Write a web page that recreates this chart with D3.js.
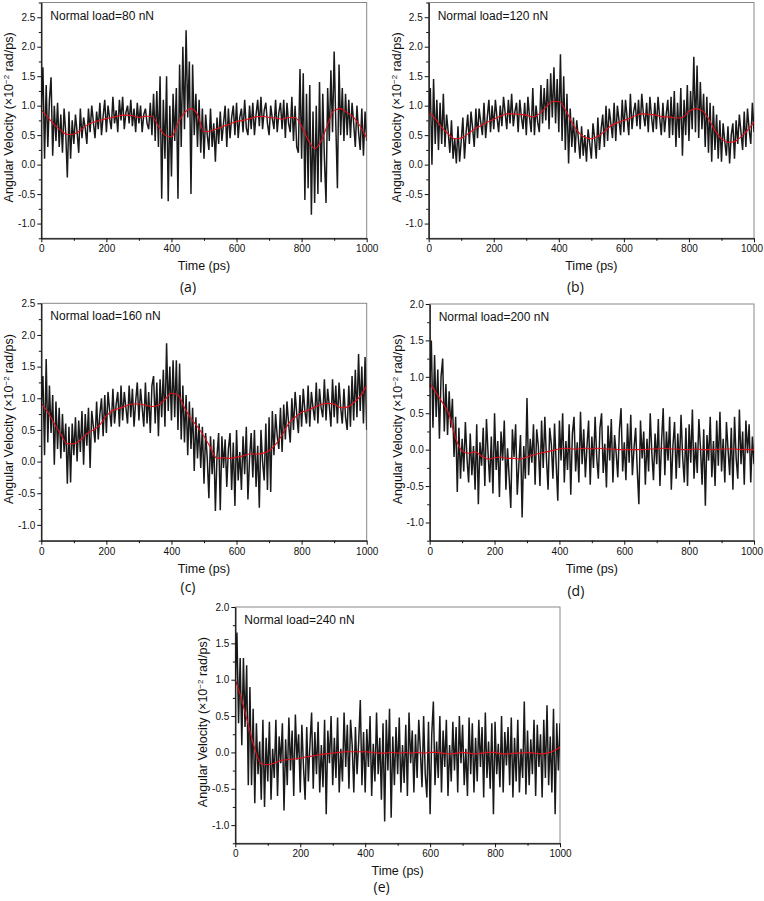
<!DOCTYPE html>
<html lang="en">
<head>
<meta charset="UTF-8">
<script src="https://d3js.org/d3.v7.min.js"></script>
<style>
  body { margin: 0; background: #fff; }
  svg text { font-family: 'Liberation Sans', Arial, sans-serif; fill: #111; }
  .tick text { font-size: 10px; font-family: 'Liberation Sans', Arial, sans-serif; }
  .frame { fill: none; stroke: #888; stroke-width: 1; }
  .raw { fill: none; stroke: #000; stroke-width: 1.5; stroke-linejoin: miter; stroke-opacity: 0.9; }
  .fit { fill: none; stroke: #e3101a; stroke-width: 1.1; }
  .title { font-size: 12px; }
  .xlabel { font-size: 12.5px; }
  .ylabel { font-size: 12.5px; }
  svg text.panel-tag { font-family: 'Open Sans', sans-serif; font-size: 14px; }
</style>
</head>
<body>
<script>
// time axis of the raw trace (ps) and of the smoothed curve
const tRaw = d3.range(0, 1001, 5);
const tFit = d3.range(0, 1001, 20);

const loads = ["80", "120", "160", "200", "240"];
const tags = ["(a)", "(b)", "(c)", "(d)", "(e)"];

// raw angular velocity, x10^-2 rad/ps, every 5 ps
const velA = [
  0.95,1.65,0.10,1.35,0.30,1.10,1.48,0.15,1.00,0.40, 1.05,0.30,0.85,0.20,0.95,0.55,-0.22,0.90,0.10,0.75,
  0.35,0.85,0.55,0.20,0.95,0.45,0.80,0.62,0.35,0.95, 0.55,1.00,0.72,0.45,0.90,0.60,1.05,0.50,0.82,1.10,
  0.55,1.00,0.78,0.60,1.15,0.70,0.92,0.55,1.10,0.75, 1.15,0.60,0.88,1.00,0.70,1.10,0.65,0.95,0.55,1.05,
  0.70,1.00,0.55,0.85,0.95,0.70,0.60,1.05,0.50,1.20, 0.40,1.25,0.30,1.50,-0.58,1.10,0.10,1.50,-0.62,1.00,
  -0.20,1.20,0.40,1.30,-0.58,1.70,0.30,2.00,0.60,2.28, 0.80,1.75,-0.50,1.70,0.50,1.20,0.30,1.10,0.20,0.95,
  0.10,0.85,0.50,0.25,0.95,0.30,0.70,0.05,0.80,0.35, 0.90,0.40,0.70,1.00,0.30,0.95,0.45,0.80,1.00,0.50,
  1.05,0.45,0.80,0.95,0.55,1.10,0.62,0.50,1.00,0.60, 1.05,0.50,0.85,1.10,0.65,1.15,0.60,0.92,1.05,0.70,
  0.50,1.00,0.78,0.60,1.10,0.55,0.88,1.05,0.60,1.10, 0.45,1.05,0.70,0.55,1.15,0.40,1.00,0.30,0.20,1.62,
  0.10,1.55,-0.60,1.20,-0.40,1.35,-0.85,0.90,-0.65,1.00, -0.50,1.40,-0.30,1.20,0.10,-0.65,1.30,0.40,1.60,0.55,
  1.92,0.70,-0.40,1.70,0.50,1.30,0.40,1.20,0.50,1.10, 0.45,1.05,0.70,0.30,1.00,0.55,0.25,0.95,0.15,0.90,
  0.40
];
const velB = [
  0.90,1.30,0.00,1.45,0.35,1.10,0.25,1.05,0.35,1.20, 0.30,0.85,0.55,0.20,0.75,0.10,0.45,0.02,0.65,0.05,
  0.40,0.80,0.10,0.55,0.85,0.35,0.90,0.62,0.30,0.95, 0.45,0.95,0.72,0.50,1.05,0.45,0.80,1.10,0.55,1.00,
  0.60,1.10,0.80,0.55,1.00,0.65,1.15,0.88,0.60,1.10, 0.70,1.20,0.65,0.90,1.05,0.55,1.10,0.80,0.60,1.05,
  0.50,1.15,0.80,0.55,1.30,0.50,1.00,0.72,0.55,1.35, 0.70,1.30,0.75,1.45,0.60,1.55,0.80,1.65,0.70,1.45,
  0.55,1.87,0.40,1.50,0.25,1.20,0.02,0.95,0.30,0.80, 0.20,0.75,0.45,0.10,0.65,0.15,0.50,0.05,0.60,0.35,
  0.10,0.70,0.45,0.10,0.80,0.25,0.60,0.85,0.30,1.00, 0.40,0.95,0.70,0.45,1.05,0.40,1.00,0.75,0.50,1.10,
  0.55,1.10,0.80,0.50,1.20,0.60,0.90,1.05,0.65,1.10, 0.60,1.20,0.85,0.65,1.05,0.55,1.15,0.80,0.55,1.05,
  0.60,1.15,0.80,0.50,1.05,0.55,0.85,1.10,0.45,1.15, 0.50,1.25,0.30,1.05,0.45,1.30,0.15,1.10,0.50,1.35,
  0.40,1.25,0.60,1.83,0.55,1.68,0.45,1.40,0.60,1.20, 0.30,1.15,0.20,1.05,0.05,1.00,0.25,0.85,0.10,0.75,
  0.05,0.70,0.40,0.15,0.65,0.02,0.50,0.70,0.10,0.75, 0.35,0.85,0.55,0.25,0.90,0.30,0.95,0.60,0.35,1.05,
  0.55
];
const velC = [
  0.90,1.35,0.10,1.62,0.30,1.20,0.45,1.05,-0.05,0.95, 0.20,0.85,0.05,0.75,0.15,0.60,-0.35,0.55,-0.33,0.60,
  0.10,0.70,0.00,0.65,0.15,0.80,-0.05,0.75,0.25,0.85, -0.10,0.80,0.55,0.30,0.95,0.35,0.75,1.00,0.40,1.05,
  0.45,1.10,0.80,0.55,1.15,0.60,0.90,1.10,0.55,1.20, 0.65,1.10,0.85,0.60,1.20,0.70,1.15,0.55,0.95,1.25,
  0.65,1.15,0.85,0.55,1.25,0.60,1.10,0.45,1.20,1.35, 0.60,1.25,0.40,1.30,0.70,1.45,0.55,1.87,0.80,1.50,
  0.65,1.60,0.70,1.60,0.50,1.55,0.35,1.20,0.30,1.05, 0.10,0.95,0.20,0.85,-0.15,0.70,0.05,0.60,-0.10,0.55,
  -0.35,0.45,0.05,-0.58,0.40,-0.20,0.35,-0.78,0.10,0.45, -0.77,0.40,-0.10,0.35,-0.40,0.20,0.45,-0.45,0.30,-0.70,
  0.50,-0.30,0.15,-0.45,0.40,-0.20,0.55,-0.60,0.05,0.45, -0.25,0.50,-0.40,0.25,-0.73,0.50,0.00,-0.30,0.60,-0.45,
  0.70,-0.48,0.80,0.10,0.75,0.40,0.20,0.85,0.15,0.90, 0.35,0.95,0.60,0.30,1.00,0.50,1.10,0.75,0.45,1.05,
  0.55,1.15,0.80,0.60,1.20,0.55,1.10,0.85,0.65,1.25, 0.60,1.15,0.85,0.70,1.30,0.65,1.15,0.88,0.55,1.30,
  0.70,1.20,0.60,1.25,0.85,0.60,1.15,0.70,0.50,1.20, 0.55,1.35,0.65,1.45,0.70,1.70,0.80,1.50,0.60,1.65,
  0.50
];
const velD = [
  0.85,1.50,0.30,1.30,0.45,1.10,0.15,1.00,1.25,0.25, 0.90,0.20,0.80,0.30,0.70,-0.10,0.45,-0.58,0.30,-0.40,
  0.15,-0.30,0.38,-0.12,-0.45,0.22,-0.35,0.05,-0.55,0.35, -0.75,0.10,-0.22,0.30,-0.50,0.42,-0.05,-0.45,0.18,-0.60,
  0.50,-0.28,0.12,-0.65,0.25,-0.15,0.40,-0.55,0.02,-0.38, -0.80,0.28,-0.10,0.35,-0.62,-0.20,0.20,-0.93,0.05,-0.40,
  0.71,-0.35,0.15,-0.18,0.35,-0.48,0.28,0.05,-0.50,0.40, -0.25,0.45,-0.12,-0.55,0.30,0.08,-0.40,0.36,-0.20,-0.70,
  0.40,-0.15,0.50,-0.45,0.12,-0.28,0.35,-0.62,0.22,0.45, -0.30,0.10,-0.45,0.52,-0.20,0.28,-0.38,0.05,0.40,-0.48,
  0.18,-0.25,0.45,-0.10,-0.40,0.30,0.50,-0.32,0.08,-0.52, 0.33,-0.15,0.42,-0.45,0.20,-0.05,-0.38,0.28,0.57,-0.30,
  0.10,-0.42,0.36,-0.18,0.48,-0.35,0.02,0.30,-0.28,-0.75, 0.40,-0.12,0.25,-0.48,0.15,-0.30,0.50,-0.05,-0.42,0.22,
  -0.20,0.42,-0.50,0.12,0.57,-0.35,0.25,-0.15,0.45,-0.55, 0.05,0.38,-0.40,0.22,-0.25,0.48,-0.10,-0.45,0.30,-0.50,
  0.35,-0.18,0.55,-0.40,0.10,-0.32,0.42,0.02,-0.48,0.28, -0.77,0.20,-0.15,0.45,-0.38,0.12,-0.50,0.40,-0.22,0.52,
  -0.30,0.15,-0.45,0.38,0.00,-0.35,0.30,-0.55,0.45,-0.12, -0.40,0.55,-0.20,0.25,-0.48,0.40,-0.05,0.35,-0.45,0.18,
  -0.20
];
const velE = [
  1.00,1.65,0.40,1.30,0.10,1.30,0.35,1.20,-0.45,0.90, -0.45,0.60,-0.70,0.40,-0.30,0.15,-0.65,0.45,-0.75,0.20,
  -0.40,0.42,-0.65,0.05,-0.35,0.45,-0.60,0.22,-0.15,0.40, -0.80,0.18,-0.45,0.48,-0.25,0.30,-0.60,0.52,-0.10,0.25,
  -0.55,0.38,-0.20,-0.65,0.35,-0.40,0.12,0.55,-0.50,0.28, -0.30,0.42,-0.55,0.10,-0.48,0.45,-0.85,0.30,-0.15,0.50,
  -0.45,0.20,-0.35,0.48,-0.55,0.05,-0.40,0.55,-0.20,0.38, -0.50,0.45,0.10,-0.55,0.35,-0.30,0.15,0.72,-0.45,0.28,
  -0.55,0.32,-0.20,0.50,-0.60,0.12,-0.40,0.55,-0.30,0.20, -0.65,0.40,-0.95,0.45,-0.25,0.60,-0.90,0.22,-0.45,0.35,
  -0.30,0.48,-0.55,0.10,-0.42,0.38,-0.60,0.55,-0.15,0.30, -0.55,0.25,-0.35,0.45,0.02,-0.48,0.50,-0.30,-0.62,0.42,
  -0.85,0.25,0.70,-0.45,0.15,-0.35,0.50,-0.55,0.30,-0.20, 0.45,-0.60,0.10,-0.40,0.42,-0.25,0.35,-0.55,0.50,-0.15,
  0.38,-0.45,0.05,-0.60,0.48,-0.30,0.40,-0.55,0.20,-0.40, 0.45,-0.20,0.35,-0.62,0.55,-0.35,0.15,-0.50,0.40,-0.85,
  0.42,-0.30,0.12,-0.48,0.50,-0.55,0.28,-0.18,0.35,-0.45, 0.48,-0.62,0.20,-0.40,0.45,-0.55,0.05,-0.35,0.70,-0.58,
  0.30,-0.45,0.18,-0.30,0.45,-0.60,0.38,-0.20,0.25,-0.62, 0.45,-0.35,0.65,-0.45,0.22,-0.55,0.60,-0.85,0.40,-0.25,
  0.40
];

// smoothed (red) curves, every 20 ps
const fitA = [0.93,0.80,0.68,0.58,0.51,0.52,0.58,0.67,0.72,0.75,0.78,0.80,0.83,0.84,0.83,0.80,0.82,0.82,0.65,0.50,
  0.47,0.70,0.88,0.95,0.85,0.56,0.57,0.61,0.65,0.69,0.73,0.75,0.78,0.81,0.82,0.80,0.79,0.77,0.80,0.80,
  0.65,0.42,0.27,0.40,0.68,0.92,0.95,0.88,0.80,0.65,0.45];
const fitB = [0.89,0.78,0.63,0.52,0.44,0.45,0.52,0.60,0.66,0.72,0.77,0.82,0.86,0.86,0.85,0.84,0.81,0.86,0.97,1.07,
  1.07,0.93,0.72,0.55,0.46,0.44,0.48,0.56,0.66,0.71,0.75,0.79,0.84,0.86,0.85,0.84,0.81,0.81,0.79,0.80,
  0.90,0.95,0.92,0.78,0.58,0.44,0.38,0.39,0.47,0.58,0.72];
const fitC = [0.92,0.78,0.60,0.43,0.28,0.28,0.34,0.44,0.50,0.58,0.72,0.81,0.84,0.88,0.91,0.91,0.89,0.87,0.89,0.98,
  1.08,1.05,0.85,0.68,0.55,0.40,0.22,0.05,0.06,0.05,0.07,0.09,0.12,0.12,0.13,0.17,0.27,0.42,0.60,0.70,
  0.78,0.81,0.86,0.90,0.92,0.91,0.85,0.86,0.93,1.03,1.20];
const fitD = [0.91,0.78,0.64,0.48,0.16,-0.02,-0.05,-0.03,-0.09,-0.13,-0.11,-0.10,-0.12,-0.12,-0.13,-0.10,-0.07,-0.05,-0.03,-0.01,
  0.01,0.02,0.01,0.01,0.02,0.01,0.02,0.01,0.01,0.00,0.00,0.00,0.00,0.00,0.01,0.01,0.02,0.01,0.01,0.00,
  0.00,0.01,0.00,0.00,0.00,0.01,0.01,0.01,0.00,0.00,0.00];
const fitE = [1.00,0.72,0.38,0.05,-0.16,-0.17,-0.15,-0.11,-0.10,-0.09,-0.08,-0.06,-0.05,-0.03,-0.02,-0.01,0.00,0.01,0.01,0.01,
  0.01,0.00,-0.01,-0.01,0.00,-0.01,0.00,-0.01,0.00,-0.01,0.00,0.00,-0.01,-0.02,-0.01,0.00,-0.01,-0.02,-0.01,0.00,
  0.00,-0.02,-0.02,-0.01,-0.01,0.00,-0.01,-0.02,-0.01,0.02,0.07];

const yDomains = [[-1.25, 2.75], [-1.25, 2.75], [-1.25, 2.5], [-1.25, 2.0], [-1.25, 2.0]];
const yTicks = [
  [-1, -0.5, 0, 0.5, 1, 1.5, 2, 2.5],
  [-1, -0.5, 0, 0.5, 1, 1.5, 2, 2.5],
  [-1, -0.5, 0, 0.5, 1, 1.5, 2, 2.5],
  [-1, -0.5, 0, 0.5, 1, 1.5, 2],
  [-1, -0.5, 0, 0.5, 1, 1.5, 2]
];
const xTicks = [0, 200, 400, 600, 800, 1000];

const raws = [velA, velB, velC, velD, velE];
const fits = [fitA, fitB, fitC, fitD, fitE];

// plot rectangles: left, top, width, height, and offset of the (x) tag below the axis
const boxes = [
  {x: 41.3, y: 2.5, w: 325.4, h: 235.8, tag: 54},
  {x: 428.7, y: 2.5, w: 325.3, h: 235.8, tag: 54},
  {x: 41.3, y: 303.3, w: 325.4, h: 237.4, tag: 51},
  {x: 429.7, y: 304, w: 324.3, h: 236.7, tag: 55},
  {x: 235.3, y: 607, w: 324.7, h: 236.3, tag: 49}
];

const svg = d3.select("body").append("svg")
  .attr("width", 764)
  .attr("height", 901);

boxes.forEach((b, i) => {
  const g = svg.append("g").attr("transform", `translate(${b.x},${b.y})`);
  const x = d3.scaleLinear().domain([0, 1000]).range([0, b.w]);
  const y = d3.scaleLinear().domain(yDomains[i]).range([b.h, 0]);

  g.append("defs").append("clipPath").attr("id", "clip" + i)
    .append("rect").attr("width", b.w).attr("height", b.h);

  // top/right frame (grey)
  g.append("rect").attr("class", "frame").attr("width", b.w).attr("height", b.h);

  const plot = g.append("g").attr("clip-path", `url(#clip${i})`);
  const rawLine = d3.line().x((d, k) => x(tRaw[k])).y(d => y(d));
  plot.append("path").attr("class", "raw").attr("d", rawLine(raws[i]));
  const fitLine = d3.line().x((d, k) => x(tFit[k])).y(d => y(d)).curve(d3.curveMonotoneX);
  plot.append("path").attr("class", "fit").attr("d", fitLine(fits[i]));

  // minor ticks
  const xMinor = d3.range(100, 1000, 200);
  g.append("g").attr("transform", `translate(0,${b.h})`)
    .call(d3.axisBottom(x).tickValues(xMinor).tickSize(2.5).tickFormat(""))
    .call(s => s.select(".domain").remove());
  const yMinor = d3.range(yDomains[i][0], yDomains[i][1] + 0.001, 0.5);
  g.append("g")
    .call(d3.axisLeft(y).tickValues(yMinor).tickSize(2.5).tickFormat(""))
    .call(s => s.select(".domain").remove());

  // major axes
  const xAx = g.append("g").attr("transform", `translate(0,${b.h})`)
    .call(d3.axisBottom(x).tickValues(xTicks).tickSize(4).tickSizeOuter(0).tickPadding(3).tickFormat(d3.format("d")))
    .call(s => s.select(".domain").attr("stroke", "#111").attr("stroke-width", 1.3));
  // keep the last label inside the page on the right-hand panels
  if (b.x + b.w > 740) {
    xAx.selectAll(".tick text").filter(d => d === 1000).attr("dx", -2.5);
  }
  g.append("g")
    .call(d3.axisLeft(y).tickValues(yTicks[i]).tickSize(4).tickSizeOuter(0).tickPadding(2).tickFormat(d3.format(".1f")))
    .call(s => s.select(".domain").attr("stroke", "#111").attr("stroke-width", 1.3));
  g.selectAll(".tick line").attr("stroke", "#111");
  g.selectAll(".tick text").text(function() { return this.textContent.replace("−", "-"); });

  g.append("text").attr("class", "title")
    .attr("x", 9).attr("y", 17)
    .text(`Normal load=${loads[i]} nN`);

  g.append("text").attr("class", "xlabel")
    .attr("x", b.w / 2).attr("y", b.h + 32)
    .attr("text-anchor", "middle")
    .text("Time (ps)");

  const yl = g.append("text").attr("class", "ylabel")
    .attr("transform", `translate(-28,${b.h / 2 - 3}) rotate(-90)`)
    .attr("text-anchor", "middle");
  yl.append("tspan").text("Angular Velocity (×10");
  yl.append("tspan").attr("dy", -4).attr("font-size", "8px").text("−2");
  yl.append("tspan").attr("dy", 4).text(" rad/ps)");

  g.append("text").attr("class", "panel-tag")
    .attr("x", b.w / 2 - 16).attr("y", b.h + b.tag)
    .attr("text-anchor", "middle")
    .text(tags[i]);
});
</script>
</body>
</html>
